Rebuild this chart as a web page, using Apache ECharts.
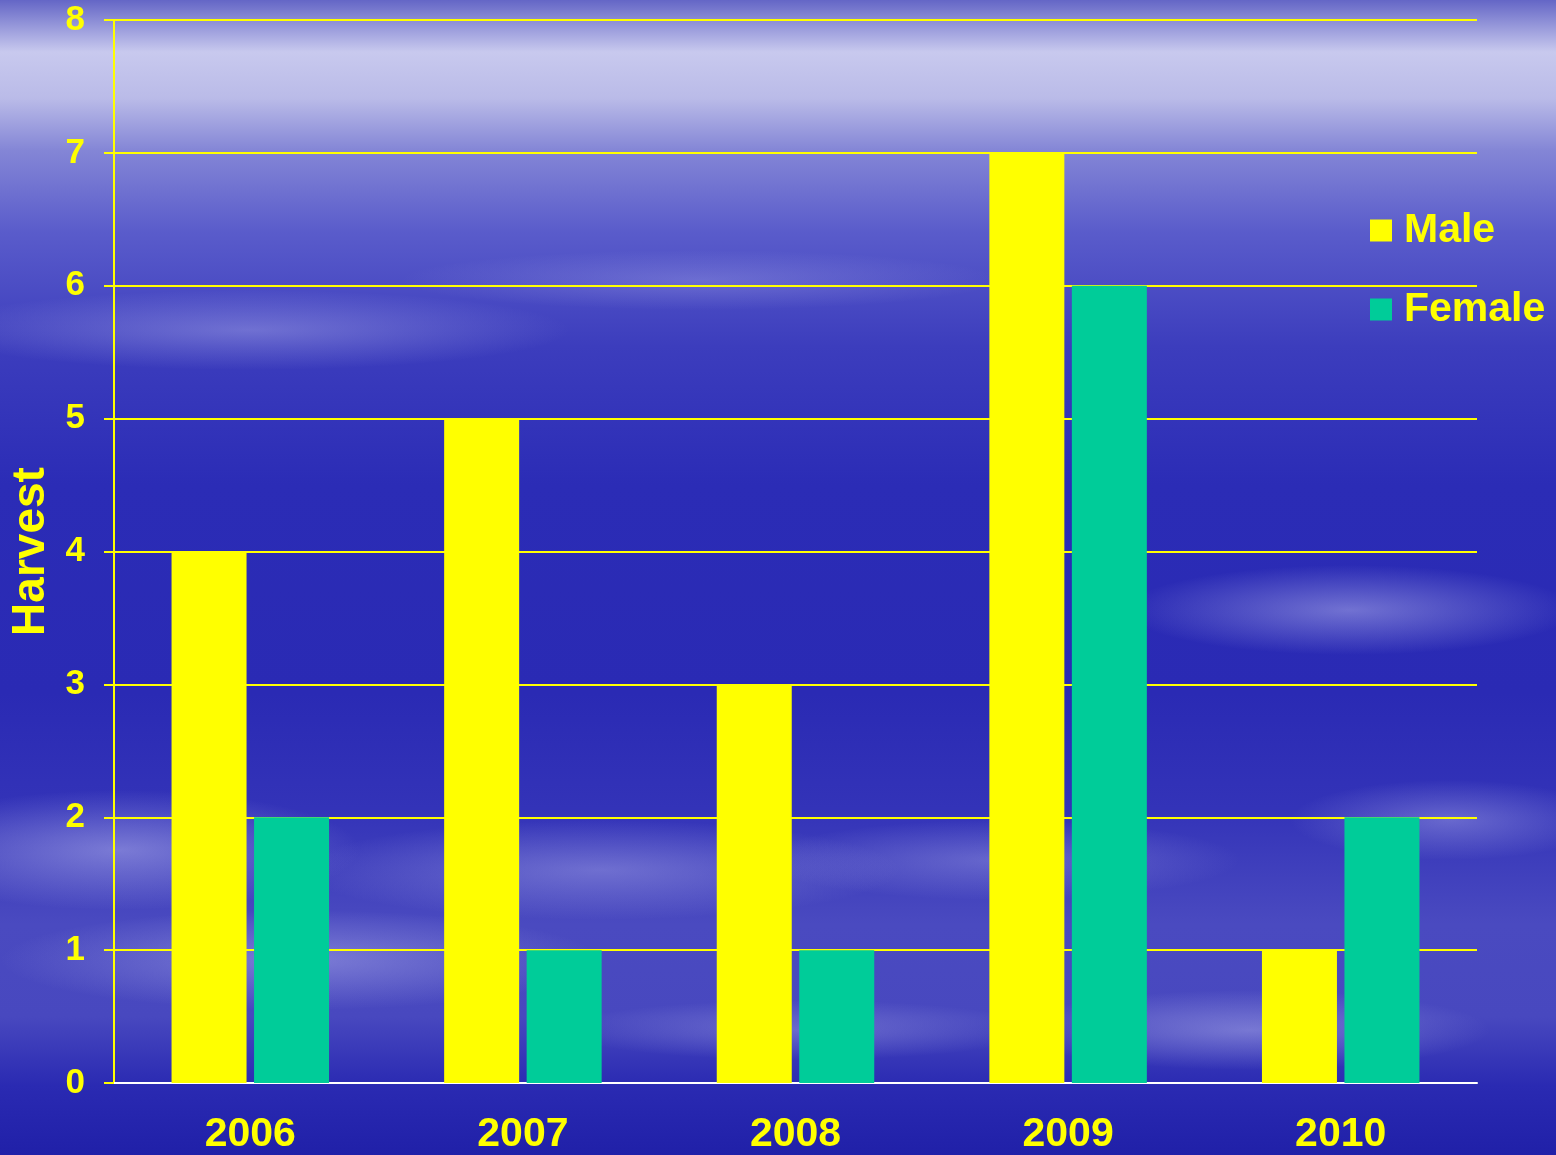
<!DOCTYPE html>
<html>
<head>
<meta charset="utf-8">
<script src="https://cdn.jsdelivr.net/npm/echarts@6/dist/echarts.min.js"></script>
<style>
html,body{margin:0;padding:0;background:#2a2ab5;overflow:hidden;}
#chart{width:1556px;height:1155px;}
</style>
</head>
<body>
<div id="chart"></div>
<script>
const categories = ['2006', '2007', '2008', '2009', '2010'];
const maleValues = [4, 5, 3, 7, 1];
const femaleValues = [2, 1, 1, 6, 2];
const seriesNames = ['Male', 'Female'];
const yAxisTitle = 'Harvest';

const chart = echarts.init(document.getElementById('chart'), null, {renderer: 'canvas'});
const FONT = '"Liberation Sans", Arial, sans-serif';

function cloud(cx, cy, r, sx, op) {
  return {
    type: 'circle', silent: true, z: -10,
    x: cx, y: cy, scaleX: sx, scaleY: 1,
    shape: {cx: 0, cy: 0, r: r},
    style: {
      fill: new echarts.graphic.RadialGradient(0.5, 0.5, 0.5, [
        {offset: 0, color: 'rgba(200,200,245,' + op + ')'},
        {offset: 1, color: 'rgba(200,200,245,0)'}
      ])
    }
  };
}

const option = {
  backgroundColor: new echarts.graphic.LinearGradient(0, 0, 0, 1, [
    {offset: 0.0, color: '#6466c6'},
    {offset: 0.045, color: '#c8c9ee'},
    {offset: 0.085, color: '#babbe8'},
    {offset: 0.13, color: '#8486d6'},
    {offset: 0.2, color: '#5a5ccb'},
    {offset: 0.3, color: '#3c3dbd'},
    {offset: 0.42, color: '#2b2cb6'},
    {offset: 0.6, color: '#2a2ab4'},
    {offset: 0.7, color: '#3333b8'},
    {offset: 0.8, color: '#4a4ac0'},
    {offset: 0.88, color: '#4848bf'},
    {offset: 0.94, color: '#2a2ab2'},
    {offset: 1.0, color: '#2020a8'}
  ]),
  graphic: [
    cloud(250, 330, 40, 8, 0.35),
    cloud(700, 280, 30, 10, 0.25),
    cloud(1350, 610, 45, 5, 0.45),
    cloud(1450, 820, 40, 4, 0.35),
    cloud(120, 850, 60, 4, 0.45),
    cloud(600, 870, 50, 6, 0.35),
    cloud(1000, 860, 40, 6, 0.3),
    cloud(300, 960, 50, 6, 0.4),
    cloud(1250, 1030, 40, 6, 0.4),
    cloud(800, 1030, 30, 8, 0.3)
  ],
  legend: {
    orient: 'vertical',
    left: 1365,
    top: 205,
    itemWidth: 22,
    itemHeight: 22,
    itemGap: 38,
    icon: 'rect',
    data: seriesNames,
    textStyle: {
      color: '#ffff00', fontSize: 41, fontWeight: 'bold', fontFamily: FONT,
      lineHeight: 41, padding: [0, 0, 0, 7]
    }
  },
  grid: {left: 111, right: 79, top: 20, bottom: 68, containLabel: false},
  xAxis: {
    type: 'category',
    data: categories,
    axisLine: {show: true, lineStyle: {color: '#ffffff', width: 2}},
    axisTick: {show: false},
    axisLabel: {
      color: '#ffff00', fontSize: 41, fontWeight: 'bold', fontFamily: FONT, margin: 31
    }
  },
  yAxis: {
    type: 'value',
    min: 0, max: 8, interval: 1,
    name: yAxisTitle,
    nameLocation: 'middle',
    nameGap: 60,
    nameRotate: 90,
    nameTextStyle: {color: '#ffff00', fontSize: 46, fontWeight: 'bold', fontFamily: FONT},
    axisLine: {show: true, lineStyle: {color: '#ffff00', width: 2}},
    axisTick: {show: true, length: 10, lineStyle: {color: '#ffff00', width: 2}},
    splitLine: {show: true, lineStyle: {color: '#ffff00', width: 2}},
    axisLabel: {
      color: '#ffff00', fontSize: 35, fontWeight: 'bold', fontFamily: FONT, margin: 29
    }
  },
  series: [
    {
      name: seriesNames[0], type: 'bar', data: maleValues,
      barWidth: 75, barGap: '10%',
      itemStyle: {color: '#ffff00'}
    },
    {
      name: seriesNames[1], type: 'bar', data: femaleValues,
      barWidth: 75, barGap: '10%',
      itemStyle: {color: '#00cc99'}
    }
  ]
};
chart.setOption(option);
</script>
</body>
</html>
